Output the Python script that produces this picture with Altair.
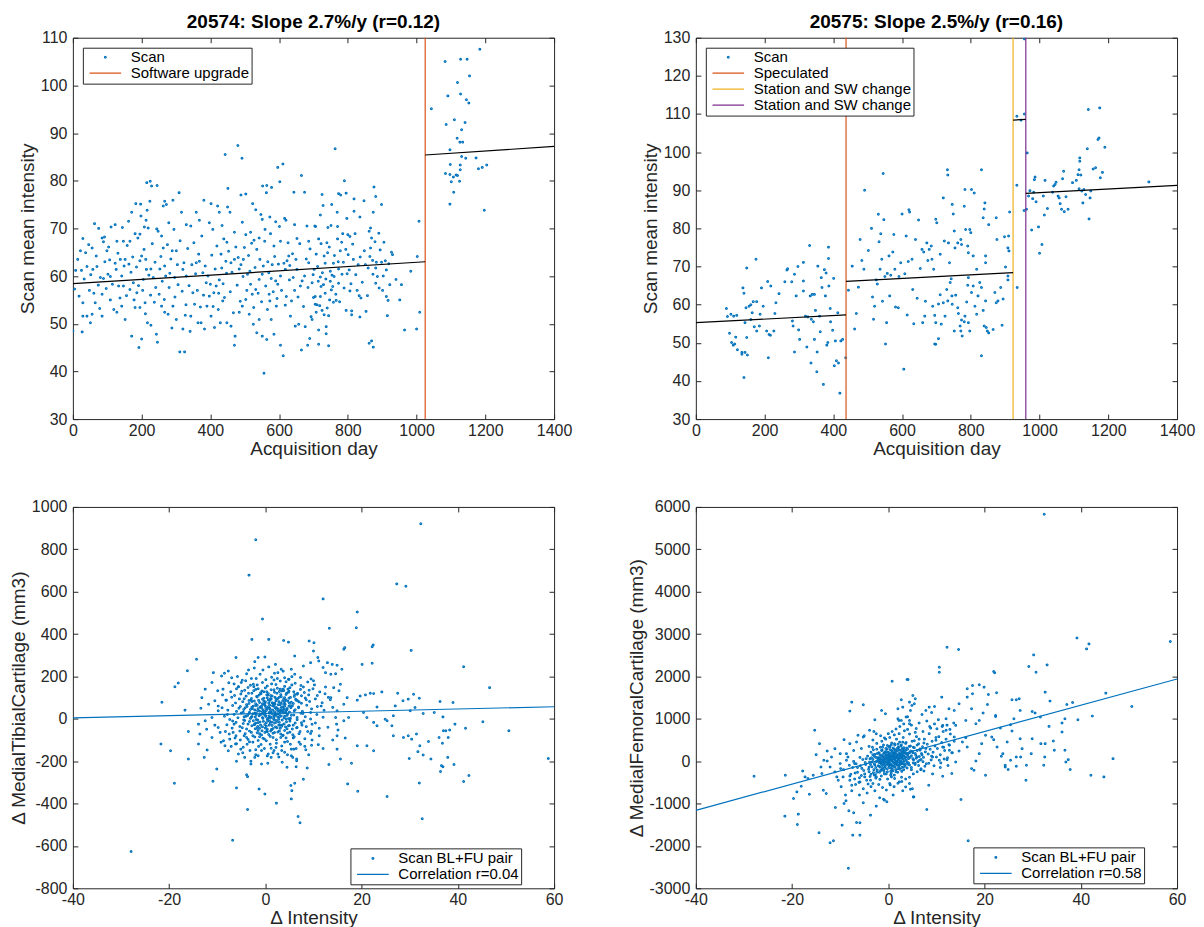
import altair as alt
import pandas as pd

# ---------------- data ----------------
# Panel 1 (20574): scans before the software upgrade (day, mean intensity)
p1_scans_pre = [
    (480, 87.4), (443, 85.5), (492, 84.7), (451, 78.4), (596, 82.8), (611, 83.5), (602, 79.8), (665, 81.1),
    (674, 77.6), (643, 77.6), (225, 79.9), (215, 79.6), (229, 78.9), (245, 79.0), (309, 77.5), (224, 75.7),
    (381, 75.9), (402, 75.2), (183, 75.2), (197, 75.1), (216, 73.8), (267, 75.7), (272, 75.0), (291, 75.9),
    (263, 74.7), (316, 73.4), (421, 74.7), (426, 73.4), (450, 74.5), (457, 73.4), (489, 77.0), (503, 77.2),
    (523, 75.2), (552, 78.9), (564, 79.0), (578, 78.6), (563, 77.5), (532, 73.9), (547, 72.9), (551, 71.9),
    (573, 72.4), (590, 71.4), (620, 71.7), (616, 72.1), (645, 70.8), (652, 67.9), (681, 70.5), (704, 70.5),
    (686, 67.3), (171, 73.4), (162, 71.5), (123, 70.8), (111, 70.3), (63, 71.0), (75, 70.0), (29, 67.9),
    (22, 65.3), (46, 66.6), (56, 65.9), (85, 68.0), (92, 68.2), (89, 67.2), (99, 65.3), (107, 63.4),
    (128, 67.3), (147, 67.3), (166, 67.3), (181, 68.9), (195, 68.8), (189, 68.0), (200, 64.2), (195, 63.2),
    (212, 63.5), (213, 71.7), (219, 70.1), (208, 70.3), (248, 69.4), (258, 68.4), (279, 71.2), (294, 69.8),
    (263, 65.9), (289, 65.3), (301, 65.3), (330, 70.8), (343, 70.5), (359, 73.4), (368, 71.7), (397, 71.2),
    (407, 69.8), (434, 70.6), (439, 67.8), (448, 67.1), (470, 69.2), (493, 71.3), (503, 68.7), (517, 69.2),
    (527, 67.5), (542, 68.0), (558, 67.3), (575, 68.9), (585, 66.3), (604, 67.3), (628, 64.2), (623, 63.2),
    (8, 61.2), (25, 61.2), (41, 62.0), (58, 61.4), (70, 62.0), (80, 59.7), (89, 59.5), (102, 60.4),
    (109, 59.9), (123, 62.7), (138, 63.5), (152, 63.5), (163, 62.5), (142, 60.0), (147, 57.9), (166, 57.2),
    (133, 57.9), (176, 58.6), (186, 56.5), (205, 59.3), (214, 61.4), (227, 61.5), (234, 59.7), (241, 57.6),
    (253, 61.5), (267, 62.1), (282, 60.6), (296, 59.7), (304, 62.4), (320, 61.4), (330, 60.0), (346, 62.4),
    (359, 62.8), (368, 63.1), (378, 60.7), (388, 58.6), (400, 58.3), (410, 56.5), (417, 57.9), (426, 59.2),
    (433, 61.7), (445, 63.1), (460, 62.8), (470, 63.5), (481, 63.9), (489, 62.4), (496, 63.5), (508, 60.4),
    (517, 58.3), (522, 56.2), (532, 57.2), (542, 59.3), (551, 60.4), (561, 57.9), (570, 60.7), (577, 59.5),
    (590, 59.0), (596, 58.3), (604, 60.0), (618, 61.4), (631, 62.2), (641, 59.7), (652, 61.4), (662, 57.9),
    (674, 60.0), (686, 62.8), (696, 58.6), (702, 61.4),
    (0, 48.5), (27, 48.3), (29, 51.6), (41, 51.6), (51, 50.2), (56, 52.0), (65, 54.4), (85, 51.6),
    (29, 54.4), (85, 56.2), (109, 55.0), (128, 52.4), (142, 53.7), (152, 50.9), (171, 47.4), (181, 53.4),
    (195, 53.4), (192, 45.0), (200, 46.8), (210, 54.4), (217, 50.2), (227, 49.7), (243, 47.8), (246, 46.1),
    (258, 53.7), (267, 52.4), (277, 52.0), (291, 53.7), (301, 50.9), (311, 44.1), (325, 44.1), (320, 48.9),
    (327, 51.8), (343, 51.6), (354, 54.1), (364, 50.2), (373, 50.2), (383, 48.9), (390, 53.7), (397, 55.8),
    (402, 51.6), (412, 49.2), (423, 53.0), (429, 50.2), (436, 54.8), (448, 50.2), (460, 49.5), (470, 45.5),
    (472, 47.4), (484, 52.4), (493, 53.7), (503, 55.1), (513, 52.0), (525, 49.9), (535, 48.1), (542, 50.9),
    (551, 47.4), (556, 39.6), (564, 46.7), (566, 53.0), (573, 54.8), (577, 50.9), (585, 47.8), (592, 53.7),
    (604, 45.5), (612, 43.3), (618, 53.9), (633, 51.6), (647, 49.5), (657, 49.9), (665, 44.5), (676, 49.4),
    (683, 45.5), (689, 46.9), (696, 50.9), (700, 55.5), (705, 54.1), (708, 52.4),
    (763, 86.7), (790, 80.0), (876, 78.7), (881, 76.7), (725, 77.1), (728, 74.8), (753, 75.0), (773, 77.3),
    (779, 77.0), (795, 77.4), (818, 76.2), (847, 75.8), (898, 75.0), (874, 73.4), (720, 72.8), (769, 73.4),
    (797, 72.1), (818, 73.6), (835, 72.4), (706, 70.4), (742, 70.2), (770, 70.4), (751, 70.6), (866, 70.1),
    (890, 69.0), (722, 66.8), (739, 67.0), (715, 67.8), (785, 68.9), (800, 68.7), (806, 68.3), (821, 68.9),
    (770, 67.8), (782, 67.1), (862, 69.4), (869, 68.0), (879, 67.2), (905, 67.1), (848, 65.3), (866, 65.9),
    (927, 65.0), (930, 64.5), (1007, 71.5), (741, 64.9), (778, 65.3), (801, 64.5), (816, 63.5), (830, 62.4),
    (872, 63.3), (883, 62.9), (898, 62.9), (909, 63.2), (912, 61.3), (859, 61.7), (881, 61.7), (1002, 64.1),
    (712, 62.0), (734, 62.7), (758, 62.7), (773, 61.5), (787, 62.9), (720, 59.8), (749, 61.0), (760, 59.9),
    (773, 58.5), (756, 57.8), (722, 57.8), (729, 58.2), (749, 58.9), (734, 56.4), (747, 55.0), (758, 54.5),
    (766, 54.9), (752, 57.1), (705, 55.7), (720, 55.7), (806, 56.9), (833, 55.9), (838, 55.4), (881, 58.5),
    (891, 57.5), (901, 57.0), (912, 55.7), (922, 58.2), (956, 58.2), (917, 54.9), (710, 54.0), (725, 52.8),
    (731, 51.9), (744, 51.7), (795, 52.8), (811, 52.7), (811, 51.9), (835, 51.4), (853, 52.6), (915, 51.7),
    (1009, 52.4), (715, 48.7), (737, 49.4), (737, 47.9), (715, 45.7), (744, 45.4), (862, 45.9), (869, 46.4),
    (874, 45.1), (965, 48.7), (1000, 48.9),
]
# Panel 1: further scans in the dense band before the upgrade
p1_scans_band = [
    (5, 57.3), (14, 63.5), (18, 55.8), (33, 59.4), (37, 64.9), (48, 57.0), (52, 60.3), (61, 56.4),
    (68, 64.2), (74, 58.1), (78, 53.2), (93, 63.0), (97, 57.4), (104, 66.1), (115, 58.3), (119, 53.0),
    (126, 61.4), (131, 64.8), (137, 55.4), (144, 70.2), (149, 62.1), (156, 55.9), (158, 66.4), (169, 60.8),
    (174, 64.0), (178, 55.0), (185, 61.9), (191, 58.0), (198, 72.6), (203, 57.0), (207, 65.6), (211, 52.1),
    (221, 60.2), (226, 56.0), (231, 66.8), (237, 54.5), (239, 62.9), (244, 69.9), (251, 56.2), (256, 64.1),
    (260, 58.9), (266, 55.1), (270, 60.0), (275, 66.6), (280, 57.6), (285, 63.6), (288, 49.1), (297, 55.6),
    (306, 58.2), (312, 67.4), (318, 56.8), (323, 62.8), (329, 54.0), (334, 65.8), (338, 58.0), (341, 48.4),
    (349, 56.5), (352, 67.0), (357, 60.5), (362, 57.0), (366, 64.6), (371, 53.5), (375, 68.4), (380, 56.0),
    (385, 62.1), (393, 60.0), (404, 64.4), (408, 53.6), (414, 61.5), (419, 66.3), (424, 56.4), (431, 64.6),
    (437, 58.4), (441, 55.5), (447, 60.6), (453, 65.2), (458, 56.7), (463, 60.8), (467, 52.3), (474, 66.1),
    (478, 58.1), (484, 61.5), (487, 54.7), (495, 59.9), (499, 66.0), (506, 57.0), (511, 64.3), (515, 61.0),
    (520, 66.9), (526, 53.4), (530, 61.8), (535, 65.6), (539, 56.4), (544, 63.5), (549, 54.6), (554, 62.1),
    (559, 69.8), (567, 63.0), (571, 56.2), (580, 62.4), (583, 56.7), (587, 64.1), (594, 55.3), (598, 62.5),
    (601, 70.4), (607, 57.0), (614, 62.7), (621, 55.7), (626, 67.0), (630, 59.2), (636, 54.8), (639, 64.7),
    (645, 57.0), (649, 63.5), (655, 55.6), (660, 66.8), (667, 59.0), (671, 53.6), (679, 63.6), (684, 57.6),
    (690, 65.7), (693, 51.5), (699, 60.3), (708, 64.6), (714, 58.9), (718, 53.8), (726, 60.7), (731, 64.2),
    (736, 59.4), (740, 53.3), (746, 66.1), (754, 60.2), (761, 64.3), (765, 56.2), (772, 63.0), (776, 54.6),
    (783, 60.4), (789, 57.5), (794, 65.6), (798, 60.5), (804, 61.3), (809, 58.4), (814, 66.7), (823, 60.3),
    (827, 57.0), (836, 64.0), (842, 58.7), (851, 62.4), (857, 55.9), (864, 64.1), (873, 60.4), (886, 59.9),
    (894, 65.5), (903, 60.0), (919, 62.6), (940, 59.3), (951, 55.0), (983, 61.0),
]
# Panel 1: scans after the software upgrade
p1_scans_post = [
    (1184, 107.6), (1083, 105.0), (1128, 105.5), (1147, 105.5), (1154, 102.0), (1119, 100.6), (1091, 97.8),
    (1128, 98.2), (1145, 97.0), (1152, 96.3), (1043, 95.1), (1110, 92.8), (1141, 92.2), (1086, 91.8),
    (1131, 90.7), (1118, 88.9), (1126, 88.1), (1134, 88.1), (1097, 86.5), (1131, 85.1), (1143, 84.7),
    (1173, 84.8), (1098, 83.4), (1127, 83.3), (1180, 82.5), (1191, 82.8), (1204, 83.3), (1084, 81.5),
    (1097, 81.3), (1107, 80.8), (1115, 81.2), (1119, 81.1), (1127, 82.3), (1101, 79.8), (1125, 79.9),
    (1108, 77.6), (1097, 75.1), (1197, 73.8),
]
p1_events = [("Software upgrade", 1025)]
p1_fit = [  # (segment, day, intensity)
    (1, 0, 58.4), (1, 1025, 63.0),
    (2, 1025, 85.4), (2, 1400, 87.2),
]

# Panel 2 (20575)
p2_scans = [
    (89, 59.0), (92, 56.9), (102, 57.5), (110, 57.0), (119, 57.2), (98, 52.5), (104, 50.1), (109, 49.4),
    (113, 49.7), (116, 51.5), (121, 48.2), (137, 64.4), (140, 63.0), (148, 69.6), (146, 59.2), (155, 59.6),
    (143, 55.3), (160, 60.0), (164, 57.9), (167, 60.8), (177, 60.8), (170, 54.2), (177, 53.1), (185, 54.4),
    (175, 71.9), (134, 47.0), (140, 40.9), (143, 47.5), (150, 46.8), (134, 47.5), (148, 51.4), (160, 56.1),
    (187, 57.5), (191, 64.4), (196, 59.6), (206, 53.1), (213, 52.2), (217, 52.0), (211, 46.1), (209, 66.1),
    (218, 64.9), (227, 53.1), (233, 60.5), (230, 57.7), (242, 62.9), (259, 66.0), (265, 69.1), (267, 69.4),
    (279, 66.0), (287, 68.0), (297, 70.0), (283, 54.4), (281, 55.7), (287, 47.6), (292, 62.3), (299, 53.4),
    (302, 50.9), (313, 71.1), (313, 66.2), (313, 63.6), (319, 57.0), (323, 48.9), (326, 56.8), (331, 75.5),
    (333, 62.3), (336, 56.2), (339, 62.7), (342, 55.5), (345, 50.9), (345, 62.7), (348, 58.5), (353, 47.6),
    (335, 44.7), (352, 42.4), (355, 70.1), (360, 57.0), (362, 52.9), (365, 67.1), (367, 64.5), (371, 39.1),
    (374, 69.2), (377, 62.3), (379, 68.3), (381, 49.4), (384, 50.1), (386, 72.1), (386, 75.1), (387, 64.9),
    (391, 59.0), (392, 55.5), (398, 53.3), (401, 66.9), (403, 44.0), (406, 50.5), (409, 45.3), (413, 57.9),
    (415, 44.7), (419, 36.8), (422, 50.5), (427, 50.9), (436, 46.1),
    (444, 63.8), (455, 70.1), (462, 53.6), (467, 57.7), (473, 64.6), (478, 77.1), (483, 71.6), (489, 69.3),
    (491, 90.0), (502, 74.2), (511, 80.0), (514, 62.0), (517, 56.2), (520, 59.6), (525, 66.5), (528, 65.4),
    (531, 83.7), (533, 76.5), (536, 69.3), (538, 78.6), (541, 71.9), (543, 60.9), (545, 94.4), (547, 82.3),
    (550, 67.4), (552, 49.7), (555, 55.3), (557, 68.2), (562, 72.8), (564, 62.3), (567, 67.7), (573, 73.8),
    (576, 78.4), (579, 69.3), (581, 59.4), (589, 59.2), (591, 67.4), (596, 71.0), (600, 83.8), (605, 43.1),
    (608, 68.1), (612, 78.0), (615, 57.3), (618, 71.3), (620, 84.9), (622, 84.3), (629, 71.9), (631, 64.0),
    (634, 55.0), (639, 77.1), (644, 61.7), (648, 82.2), (653, 69.5), (658, 74.5), (660, 55.3), (663, 73.8),
    (666, 57.0), (668, 60.9), (672, 76.2), (675, 71.6), (679, 74.5), (685, 75.4), (687, 71.9), (692, 69.3),
    (695, 57.2), (695, 49.7), (689, 59.6),
    (698, 82.4), (701, 81.5), (711, 73.2), (720, 88.0), (723, 76.7), (732, 95.4), (733, 94.0), (735, 76.2),
    (738, 71.0), (743, 66.8), (746, 86.3), (749, 83.8), (752, 79.3), (754, 74.9), (762, 76.2), (771, 77.1),
    (773, 75.8), (781, 85.8), (783, 90.2), (785, 79.7), (791, 75.4), (793, 73.6), (797, 79.7), (800, 78.9),
    (802, 90.2), (810, 89.3), (807, 72.8), (817, 69.3), (831, 95.4), (836, 82.8), (839, 85.1), (841, 86.7),
    (843, 72.8), (843, 71.0), (852, 81.0), (874, 82.8), (876, 77.1), (898, 77.8), (901, 69.9), (908, 74.9),
    (910, 78.0), (913, 84.3), (911, 74.1), (908, 67.5), (908, 66.5),
    (698, 55.3), (698, 49.6), (706, 51.1), (706, 60.2), (711, 62.6), (714, 54.9), (720, 60.5), (725, 57.0),
    (730, 64.0), (733, 61.0), (740, 65.8), (745, 62.3), (746, 60.1), (752, 53.1), (756, 62.5), (762, 59.2),
    (764, 57.7), (769, 54.4), (771, 53.1), (773, 56.0), (775, 51.8), (781, 55.5), (783, 57.0), (788, 60.7),
    (791, 65.1), (793, 67.1), (793, 55.3), (797, 53.1), (802, 63.2), (807, 64.9), (812, 59.6), (817, 57.5),
    (821, 62.3), (826, 65.8), (831, 64.5), (831, 46.6), (836, 58.5), (839, 54.4), (843, 61.0), (845, 54.0),
    (848, 53.1), (852, 52.6), (865, 53.5), (870, 63.2), (874, 60.5), (879, 61.0), (887, 64.5), (891, 54.6),
    (894, 61.5), (935, 64.5),
    (934, 109.4), (956, 110.0), (946, 108.4), (956, 129.7), (934, 91.3), (964, 99.8),
    (955, 84.7), (962, 85.0), (968, 88.5), (972, 89.9), (977, 79.6), (980, 87.8), (983, 89.5), (985, 92.8),
    (987, 93.5), (990, 87.0), (997, 80.4), (1000, 73.5), (1007, 75.8), (1011, 88.5), (1014, 83.5),
    (1016, 92.6), (1023, 85.2), (1038, 89.5), (1041, 91.1), (1045, 91.5), (1048, 92.1), (1054, 88.5),
    (1057, 88.0), (1060, 86.5), (1064, 85.0), (1067, 93.0), (1070, 95.0), (1072, 84.4), (1077, 88.3),
    (1083, 85.0), (1096, 92.0), (1107, 92.6), (1112, 94.1), (1115, 90.4), (1115, 95.4), (1117, 98.5),
    (1117, 97.6), (1120, 94.0), (1123, 89.8), (1126, 86.7), (1129, 90.2), (1134, 88.9), (1139, 100.9),
    (1142, 111.2), (1144, 82.5), (1147, 88.0), (1149, 89.8), (1156, 95.6), (1163, 95.9), (1170, 103.3),
    (1173, 103.7), (1175, 111.6), (1177, 93.3), (1183, 94.7), (1190, 101.3), (1318, 92.2),
]
p2_events = [("Speculated", 437), ("Station and SW change", 923), ("Station and SW change (2)", 960)]
p2_fit = [
    (1, 0, 55.3), (1, 437, 57.3),
    (2, 437, 66.1), (2, 923, 68.4),
    (3, 923, 108.4), (3, 960, 108.6),
    (4, 960, 89.2), (4, 1400, 91.3),
]

# Panel 3: delta intensity vs delta medial tibial cartilage
p3_outer = [
    (-2.0, 845), (-3.4, 678), (-0.6, 471), (-2.8, 375), (0.7, 375), (3.8, 370), (4.8, 362), (6.1, 296),
    (-6.1, 289), (-14.3, 281), (-16.2, 227), (-18.8, 151), (-18.1, 169), (-21.5, 78), (-21.7, -119),
    (-19.7, -151), (-18.9, -304), (-27.9, -626), (-6.8, -573), (-3.7, -428), (2.3, -398), (-0.1, -355),
    (-1.3, -331), (-6.0, -326), (-3.9, -264), (-3.7, -273), (-16.0, -190), (-10.1, -237), (-10.9, -295),
    (-12.7, -182), (-12.1, -147), (-13.9, -119), (-16.0, -60), (-16.7, 41), (-13.4, 50), (-13.2, 100),
    (-12.5, 140), (-11.1, 171), (-10.8, 218), (-9.1, 202), (-8.5, 215), (-7.7, 226), (-7.0, 194),
    (-3.9, 213), (-2.2, 270), (-1.5, 289), (-0.1, 292), (2.1, 257), (2.6, 218), (3.3, 234), (4.0, 194),
    (4.8, 187), (5.4, 234), (-2.5, 163), (-5.0, 171), (-5.6, 151), (-9.9, 132), (-8.9, 113), (-8.2, 88),
    (-11.8, 69), (-10.5, 85), (-9.8, 38), (-11.1, 6), (-12.5, -9), (-13.9, -25), (-13.6, -72),
    (-12.2, -49), (-11.1, -88), (-9.8, -41), (-9.4, -64), (-8.7, -104), (-8.4, -127), (-7.7, -151),
    (-7.4, -96), (-6.7, -64), (-6.5, -25), (-6.2, -119), (-5.6, -166), (-5.1, -143), (-4.3, -182),
    (-3.0, -213), (-2.2, -182), (-1.5, -174), (-0.8, -213), (0.6, -166), (1.2, -182), (2.6, -166),
    (4.0, -158), (5.4, -143), (4.5, -229), (5.7, -182), (6.4, -226), (6.1, -304), (5.5, -339),
    (32.3, 921), (27.3, 637), (29.2, 626), (12.0, 566), (19.1, 504), (13.3, 427), (18.9, 430), (9.1, 367),
    (10.1, 359), (16.5, 336), (16.3, 328), (22.4, 348), (22.2, 340), (30.3, 323), (41.2, 246), (22.2, 262),
    (20.1, 257), (46.6, 147), (24.2, 127), (27.5, 121), (30.8, 116), (32.0, 97), (28.6, 85), (29.7, 93),
    (36.3, 82), (39.0, 77), (20.8, 113), (21.8, 121), (22.5, 119), (19.7, 108), (19.1, 88), (23.2, 56),
    (24.9, -2), (27.0, 61), (26.6, 14), (30.1, 38), (31.1, 53), (32.8, 25), (35.1, 30), (36.9, 9),
    (25.3, -9), (21.1, 6), (22.5, -17), (20.4, 30), (23.2, -33), (26.3, -33), (26.6, -80), (28.7, -88),
    (29.7, -80), (30.4, -96), (31.4, -72), (32.1, -127), (31.7, -155), (32.8, -171), (33.9, -107),
    (36.1, -88), (36.8, -115), (37.5, -56), (38.3, -53), (39.4, -25), (41.6, -45), (45.2, -14), (50.6, -56),
    (58.8, -187), (34.4, -190), (29.9, -187), (22.5, -151), (21.1, -127), (19.1, -127), (17.9, -210),
    (17.1, -307), (19.2, -342), (25.3, -367), (32.0, -303), (32.6, -472), (36.4, -249), (36.9, -226),
    (39.2, -216), (37.9, -182), (36.6, -221), (42.3, -268), (41.2, -296), (38.0, -88), (37.0, -56),
    (14.9, -80), (16.6, -91), (14.9, -143), (15.6, -190), (13.2, -216), (11.0, -122), (8.4, -146),
    (8.7, -232), (5.4, -174), (6.5, -198), (5.3, -315), (5.4, -378), (6.8, -461), (7.2, -491), (7.9, -285),
    (9.6, -125), (9.4, -69), (14.6, 6), (14.8, -25), (15.1, -53), (16.3, -9), (17.3, 6), (14.9, 38),
    (16.3, 69), (17.0, 100), (15.3, 132), (15.6, 163), (14.2, 147), (13.6, 100), (15.9, 234), (14.9, 253),
    (13.9, 257), (12.9, 265), (11.1, 273), (9.4, 265), (7.9, 249), (10.0, 320), (10.9, 289), (12.0, 242),
    (12.5, 218), (13.6, 210), (14.6, 213),
]
p3_core = [
    (-6.5, 165), (-4.8, 182), (-3.1, 158), (-1.9, 190), (-0.6, 171), (0.4, 155), (1.3, 196), (2.2, 162),
    (3.1, 178), (4.0, 153), (4.9, 186), (6.2, 168), (7.4, 157), (8.8, 174), (10.2, 160), (-2.4, 152),
    (5.5, 199), (1.8, 183), (-5.6, 151), (9.5, 188),
    (-7.2, 128), (-6.0, 142), (-5.1, 117), (-4.3, 135), (-3.6, 148), (-2.8, 121), (-2.0, 139), (-1.3, 112),
    (-0.7, 131), (0.0, 146), (0.6, 119), (1.2, 137), (1.9, 125), (2.5, 144), (3.2, 114), (3.8, 133),
    (4.4, 121), (5.1, 147), (5.9, 128), (6.6, 116), (7.3, 139), (8.1, 124), (9.0, 113), (9.9, 142),
    (11.3, 127), (12.4, 118), (-1.0, 123), (2.9, 129), (0.3, 113), (4.7, 140),
    (-8.1, 88), (-7.0, 102), (-6.2, 75), (-5.4, 94), (-4.7, 81), (-4.0, 107), (-3.4, 72), (-2.9, 96),
    (-2.3, 84), (-1.7, 103), (-1.2, 77), (-0.6, 92), (-0.1, 71), (0.4, 99), (0.9, 86), (1.4, 108),
    (1.9, 74), (2.3, 93), (2.8, 81), (3.3, 104), (3.8, 70), (4.3, 89), (4.9, 97), (5.4, 78),
    (6.0, 106), (6.7, 85), (7.5, 73), (8.3, 98), (9.2, 82), (10.4, 94), (11.8, 76), (13.1, 101),
    (-3.0, 88), (-0.3, 83), (1.1, 96), (2.0, 101), (3.6, 84), (5.0, 73), (6.3, 92), (0.7, 74),
    (-2.0, 71), (4.0, 100),
    (-9.0, 52), (-7.8, 41), (-6.8, 63), (-6.0, 35), (-5.2, 58), (-4.5, 44), (-3.9, 67), (-3.3, 31),
    (-2.8, 55), (-2.2, 42), (-1.7, 64), (-1.2, 36), (-0.8, 51), (-0.3, 68), (0.2, 39), (0.6, 57),
    (1.0, 45), (1.5, 62), (1.9, 33), (2.3, 53), (2.7, 46), (3.1, 66), (3.6, 38), (4.0, 59),
    (4.5, 49), (5.0, 32), (5.6, 61), (6.2, 43), (6.9, 56), (7.7, 35), (8.6, 64), (9.6, 47),
    (10.8, 58), (12.2, 40), (14.0, 54), (-1.5, 48), (0.0, 60), (1.2, 31), (2.0, 69), (3.3, 41),
    (4.2, 35), (5.3, 52), (-2.5, 60), (-4.2, 52), (0.9, 50), (2.6, 37), (3.9, 47), (-0.5, 43),
    (-8.5, 12), (-7.4, -3), (-6.5, 21), (-5.7, 5), (-5.0, 27), (-4.3, -8), (-3.7, 16), (-3.1, 2),
    (-2.6, 24), (-2.1, 9), (-1.6, -5), (-1.1, 19), (-0.6, 6), (-0.1, 28), (0.4, -2), (0.8, 14),
    (1.3, 25), (1.7, 0), (2.2, 17), (2.6, 8), (3.1, 29), (3.5, -6), (4.0, 12), (4.6, 22),
    (5.2, 3), (5.9, 18), (6.6, -4), (7.4, 26), (8.3, 10), (9.4, -1), (10.7, 20), (12.0, 7),
    (-1.9, 20), (0.1, 11), (1.0, 3), (2.9, 21), (4.3, -1), (-3.4, 25), (1.8, 9), (3.7, 27),
    (-8.0, -28), (-6.9, -44), (-6.1, -17), (-5.3, -36), (-4.6, -22), (-3.9, -48), (-3.3, -13), (-2.8, -33),
    (-2.2, -25), (-1.7, -45), (-1.1, -15), (-0.6, -38), (-0.1, -27), (0.4, -49), (0.9, -12), (1.4, -31),
    (1.9, -20), (2.4, -42), (2.9, -16), (3.4, -35), (3.9, -24), (4.5, -47), (5.1, -11), (5.8, -30),
    (6.6, -41), (7.5, -19), (8.5, -37), (9.7, -26), (11.2, -45), (-2.0, -20), (0.2, -18), (1.6, -46),
    (3.0, -29), (4.8, -33),
    (-7.5, -72), (-6.3, -91), (-5.3, -58), (-4.4, -80), (-3.6, -97), (-2.9, -64), (-2.2, -86), (-1.5, -55),
    (-0.8, -76), (-0.2, -95), (0.4, -61), (1.0, -83), (1.6, -68), (2.3, -99), (2.9, -57), (3.6, -79),
    (4.3, -90), (5.1, -63), (6.0, -85), (7.0, -70), (8.2, -94), (9.6, -59), (-1.2, -70), (1.3, -52),
    (3.2, -88),
    (-6.0, -118), (-4.6, -134), (-3.3, -109), (-2.0, -146), (-0.9, -121), (0.2, -104), (1.2, -139),
    (2.3, -115), (3.4, -128), (4.6, -107), (5.9, -143), (7.3, -120), (-1.5, -102), (1.8, -150),
]
p3_dense = [
    (-4.8, -42), (-4.6, 31), (-4.4, 95), (-4.2, -70), (-4.0, 12), (-3.8, 58), (-3.6, -25), (-3.5, 121),
    (-3.3, -58), (-3.1, 44), (-2.9, 7), (-2.8, 82), (-2.6, -80), (-2.5, -9), (-2.4, 133), (-2.2, 26),
    (-2.1, -47), (-2.0, 63), (-1.9, -3), (-1.8, 106), (-1.7, -66), (-1.6, 39), (-1.5, -18), (-1.4, 87),
    (-1.3, 14), (-1.2, -85), (-1.1, 55), (-1.0, -30), (-0.9, 118), (-0.8, 22), (-0.7, -56), (-0.6, 71),
    (-0.5, 2), (-0.4, -12), (-0.3, 97), (-0.2, 35), (-0.1, -64), (0.0, 80), (0.1, 15), (0.2, -35),
    (0.3, 128), (0.4, 47), (0.5, -8), (0.6, 89), (0.7, -74), (0.8, 29), (0.9, 64), (1.0, -21),
    (1.1, 110), (1.2, 8), (1.3, -50), (1.4, 76), (1.5, 41), (1.6, -88), (1.7, 19), (1.8, 137),
    (1.9, -5), (2.0, 52), (2.1, -38), (2.2, 85), (2.3, -16), (2.4, 121), (2.5, 24), (2.6, -62),
    (2.7, 67), (2.8, -2), (2.9, 102), (3.0, 36), (3.1, -45), (3.2, 74), (3.3, 13), (3.4, 131),
    (3.5, -29), (3.6, 56), (3.7, -78), (3.8, 92), (3.9, 5), (4.0, -55), (4.1, 68), (4.2, 28),
    (4.3, 115), (4.4, -14), (4.5, 44), (4.6, -67), (4.7, 83), (4.8, 1), (4.9, 59), (5.0, -32),
    (5.2, 101), (5.4, 17), (5.6, -48), (5.8, 72), (6.0, 38), (6.2, -20), (6.4, 88), (6.6, 6),
    (6.9, 52), (7.2, -60), (7.5, 109), (7.8, 25), (8.0, -10),
    (-4.5, -5), (-3.9, -88), (-3.4, 86), (-2.7, 48), (-2.3, -28), (-1.9, 28), (-1.5, 142), (-1.2, -45),
    (-0.8, 60), (-0.5, -92), (-0.2, 20), (0.1, 50), (0.3, -58), (0.5, 112), (0.8, -30), (1.0, 34),
    (1.2, 93), (1.4, -15), (1.7, 60), (1.9, -65), (2.1, 18), (2.3, 45), (2.6, 96), (2.8, -30),
    (3.0, 11), (3.2, -72), (3.5, 37), (3.7, 140), (4.0, 81), (4.2, -38), (4.5, 16), (4.8, 125),
    (5.1, -2), (5.3, 62), (5.7, -75), (6.1, 115), (6.5, -42), (7.0, 80), (0.6, 3), (1.6, 72),
    (2.4, -8), (-0.6, 33), (-1.6, -36), (3.3, 53), (0.0, -44), (2.0, 26), (1.1, -58), (-0.3, 128),
    (4.4, 40), (-2.8, 11),
]
p3_halo = [
    (-10.5, -30), (-9.8, 60), (-9.2, -110), (-8.8, 140), (-8.3, -60), (-7.9, 20), (-7.6, 170), (-7.1, -130),
    (-6.8, -10), (-6.4, 110), (-6.1, -80), (-5.8, 200), (-5.5, 50), (-5.2, -100), (-4.9, 130), (-4.7, -160),
    (-4.4, 10), (-4.1, 180), (-3.8, -120), (-3.5, 230), (-3.2, -150), (-2.9, 190), (-2.6, -110), (-2.3, 240),
    (-2.0, -170), (-1.7, 160), (-1.4, -130), (-1.1, 210), (-0.8, -150), (-0.5, 230), (-0.2, -140), (0.1, 185),
    (0.4, -175), (0.7, 245), (1.0, -120), (1.3, 165), (1.6, -160), (1.9, 215), (2.2, -135), (2.5, 190),
    (2.8, -180), (3.1, 140), (3.4, -150), (3.7, 225), (4.0, -110), (4.3, 175), (4.6, -170), (4.9, 130),
    (5.2, -120), (5.5, 160), (5.8, -90), (6.1, 210), (6.4, -140), (6.7, 120), (7.0, -110), (7.3, 195),
    (7.6, -30), (7.9, 150), (8.2, -130), (8.5, 90), (8.8, -60), (9.1, 135), (9.4, 30), (9.7, -100),
    (10.0, 180), (10.4, -20), (10.8, 110), (11.2, -80), (11.6, 60), (12.0, -140), (12.5, 150), (13.0, -40),
    (13.5, 90), (14.0, -100), (-6.0, -200), (-3.0, -200), (0.5, -210), (3.5, -205), (6.5, -190), (9.0, -170),
]
p3_corr = [(-40, 4), (60, 57)]

# Panel 4: delta intensity vs delta medial femoral cartilage
p4_outer = [
    (-27.9, -355), (-21.4, -332), (-21.5, -1297), (-18.9, -1493), (-18.7, -1250), (-19.7, -881),
    (-19.0, -724), (-17.8, -230), (-18.1, -591), (-17.3, -371), (-16.4, -779), (-16.7, -410), (-15.6, -332),
    (-15.3, 728), (-14.3, 414), (-15.0, 155), (-14.4, -1690), (-13.5, -685), (-12.9, -763), (-12.7, 241),
    (-12.1, -1925), (-11.4, -1878), (-11.0, -1093), (-10.7, -371), (-9.9, -175), (-9.6, -1509), (-9.2, 508),
    (-9.2, -998), (-8.8, -936), (-8.3, -2529), (-8.2, -1171), (-7.6, 1394), (-8.0, 1182), (-7.4, -1745),
    (-7.2, -1218), (-6.6, -1446), (-5.9, -1745), (-5.9, -1454), (-5.2, 1331), (-5.2, -982), (-3.7, -1274),
    (-2.8, 977), (-2.5, -1061), (-1.8, -865), (-1.4, 1198), (-0.8, -920), (-0.3, -959), (0.8, 1888),
    (-0.6, 1119), (2.0, 1237), (2.2, 962), (2.7, 1449), (3.9, 1927), (4.4, 1394), (4.6, 1198), (5.1, 1551),
    (5.4, 1355), (3.7, 1041), (4.4, 884), (5.3, -842), (3.6, -606), (4.4, -528), (2.3, -489), (1.3, -410),
    (0.6, -292), (0.3, -528), (-2.5, -371), (-3.2, -528), (-3.7, -450), (-2.5, 649), (-3.9, 728),
    (-5.2, 571), (-6.3, 610), (-6.6, 453), (-8.0, 414), (-8.7, 178), (-10.0, 178), (-11.1, 296),
    (-11.8, 100), (-12.7, 5), (-12.1, -136), (-11.1, -253), (-10.4, -450), (-9.4, -371), (-8.0, -450),
    (-7.6, -567), (-5.9, -489), (-4.9, -371), (-7.0, -57), (-8.1, -96), (-8.7, 21), (-10.0, -57),
    (-14.0, -136), (-13.4, 21), (-13.8, -292),
    (32.4, 5828), (39.2, 2909), (41.2, 2650), (41.7, 2768), (58.6, 2823), (12.2, 2689), (14.6, 2634),
    (10.6, 2218), (10.6, 2100), (4.1, 1927), (30.2, 2509), (29.2, 2234), (30.7, 2100), (33.0, 2273),
    (21.9, 2116), (22.1, 2085), (16.4, 1708), (17.5, 1786), (18.9, 1802), (19.9, 1747), (22.5, 1614),
    (20.8, 1575), (17.5, 1590), (16.4, 1512), (32.6, 1630), (25.7, 1449), (26.6, 1449), (27.2, 1473),
    (33.6, 1418), (37.1, 1339), (38.3, 1386), (45.2, 1606), (50.6, 1292), (42.4, 1064), (39.4, 977),
    (36.7, 1001), (36.1, 899), (33.4, 821), (31.6, 1041), (29.9, 1174), (30.5, 1135), (27.4, 1198),
    (26.1, 1001), (25.4, 860), (23.3, 782), (22.3, 1056), (22.3, 1080), (19.7, 1135), (18.9, 962),
    (18.2, 884), (20.6, 1339), (17.3, 1237), (16.1, 962), (14.7, 1355), (13.7, 1198), (12.6, 1237),
    (11.1, 1512), (9.6, 1292), (8.5, 1276), (7.8, 1198), (5.6, 1473), (4.9, 1316), (3.0, 1276), (4.4, 962),
    (2.7, 962), (46.7, 60), (44.8, -371), (42.1, -332), (37.8, -198), (37.4, 37), (36.7, 256), (36.9, -18),
    (36.1, 688), (34.5, 256), (34.3, 476), (32.6, 414), (32.5, 100), (32.3, -96), (31.7, 414), (29.7, 178),
    (29.9, 531), (28.7, -96), (27.8, 296), (27.4, 531), (26.6, 100), (25.7, 712), (25.4, 21), (24.7, 453),
    (23.8, 178), (23.5, 116), (22.6, 335), (21.9, 508), (21.5, 571), (20.2, 610), (19.4, 414), (18.9, 178),
    (17.8, -214), (18.2, 5), (20.2, -332), (24.3, -96), (24.9, -198), (26.6, -120), (27.5, 100),
    (28.6, -450), (24.3, -136), (17.3, -175), (16.4, 335), (15.4, 453), (14.7, 241), (13.2, -292),
    (11.3, -355), (8.4, -567), (8.0, -1140), (5.2, -842), (4.6, -661), (15.1, -904), (16.6, -1878),
    (12.2, 37), (10.6, 21), (9.2, 100), (12.7, 256), (13.7, 570), (16.1, 555), (12.0, 728), (11.3, 845),
    (10.1, 766), (14.0, 845), (12.7, 374), (11.3, 335), (9.9, 492),
]
p4_core = [
    (-7.8, -310), (-7.4, -150), (-7.0, -420), (-6.7, -60), (-6.4, -260), (-6.1, -500), (-5.8, -110),
    (-5.6, -340), (-5.3, 40), (-5.1, -220), (-7.2, -5), (-6.0, -390), (-5.5, -170), (-6.9, -280), (-5.9, 90),
    (-4.9, -300), (-4.7, -80), (-4.5, -450), (-4.3, 120), (-4.1, -190), (-3.9, -20), (-3.8, -360),
    (-3.6, 210), (-3.4, -130), (-3.2, 40), (-3.1, -270), (-2.9, -60), (-2.8, 160), (-2.6, -400), (-2.5, -10),
    (-2.4, 280), (-2.3, -210), (-2.2, 80), (-2.1, -110), (-4.6, 60), (-4.0, -250), (-3.3, 330), (-2.7, -320),
    (-3.7, -80), (-4.2, -540), (-2.9, 110),
    (-1.95, -30), (-1.9, 190), (-1.85, -260), (-1.8, 60), (-1.7, -140), (-1.65, 330), (-1.6, -50),
    (-1.5, 110), (-1.45, -350), (-1.4, 250), (-1.3, -10), (-1.25, -190), (-1.2, 150), (-1.1, 40),
    (-1.05, -90), (-1.0, 380), (-0.9, -240), (-0.85, 90), (-0.8, -30), (-0.7, 220), (-0.65, -130),
    (-0.6, 20), (-0.5, 160), (-0.45, -300), (-0.4, 70), (-0.3, -60), (-0.25, 290), (-0.2, -180),
    (-0.1, 120), (-0.05, 0), (0.0, -80), (-1.35, 470), (-0.55, 520), (-1.75, -430), (-0.15, -420),
    (0.05, 200), (0.1, -30), (0.15, 350), (0.2, 60), (0.25, -150), (0.3, 130), (0.35, -60), (0.4, 270),
    (0.45, 20), (0.5, -240), (0.55, 180), (0.6, 90), (0.65, -100), (0.7, 430), (0.75, 10), (0.8, 230),
    (0.85, -190), (0.9, 120), (0.95, -20), (1.0, 310), (1.05, 60), (1.1, -120), (1.15, 200), (1.2, 150),
    (1.25, -330), (1.3, 40), (1.35, 380), (1.4, -60), (1.45, 260), (1.5, 100), (1.55, -200), (1.6, 170),
    (1.65, -10), (1.7, 520), (1.75, 80), (1.8, -90), (1.85, 240), (1.9, 140), (1.95, -260), (0.3, 560),
    (1.25, 620), (0.65, -370),
    (2.05, 30), (2.1, 330), (2.15, -110), (2.2, 180), (2.25, 70), (2.3, -30), (2.35, 450), (2.4, 120),
    (2.45, -190), (2.5, 260), (2.55, 10), (2.6, 200), (2.65, -70), (2.7, 380), (2.75, 90), (2.8, -240),
    (2.85, 150), (2.9, 300), (2.95, -20), (3.0, 220), (3.05, 50), (3.1, 560), (3.15, -130), (3.2, 130),
    (3.3, 270), (3.4, -60), (3.5, 190), (3.6, 420), (3.7, 20), (3.8, 310), (3.9, -160), (2.25, 650),
    (3.35, 720), (2.75, -380),
    (4.05, 160), (4.2, -40), (4.35, 350), (4.5, 90), (4.65, 240), (4.8, -150), (4.95, 470), (5.1, 200),
    (5.25, 30), (5.4, 320), (5.55, -80), (5.7, 140), (5.85, 580), (6.0, 250), (6.15, -10), (6.3, 410),
    (6.45, 110), (6.6, 290), (6.75, -200), (6.9, 180), (4.4, 640), (5.8, 770), (6.5, 20),
    (7.1, 340), (7.3, 90), (7.5, 520), (7.7, 220), (7.9, -60), (8.1, 400), (8.3, 170), (8.5, 650),
    (8.7, 280), (8.9, 30), (9.1, 470), (9.3, 210), (9.5, -110), (9.7, 360), (9.9, 560), (7.4, -230),
    (8.6, 820), (9.0, 120),
    (10.2, 300), (10.5, 580), (10.8, 150), (11.1, 440), (11.4, 700), (11.7, 250), (12.0, 520), (12.3, 80),
    (12.6, 390), (12.9, 640), (13.3, 200), (13.7, 470), (10.9, -40), (12.2, 850), (11.5, 330),
]
p4_dense = [
    (-4.0, -140), (-3.8, 60), (-3.6, -310), (-3.4, -20), (-3.2, 150), (-3.0, -200), (-2.8, -90), (-2.6, 90),
    (-2.4, -260), (-2.2, 20), (-2.0, 200), (-1.9, -120), (-1.8, -10), (-1.7, 140), (-1.6, -220), (-1.5, 40),
    (-1.4, -80), (-1.3, 260), (-1.2, -150), (-1.1, 100), (-1.0, -40), (-0.9, 190), (-0.8, -180), (-0.7, 50),
    (-0.6, -90), (-0.5, 300), (-0.4, -20), (-0.3, 140), (-0.2, -250), (-0.1, 60), (0.0, 210), (0.1, -110),
    (0.2, 10), (0.3, 330), (0.4, -60), (0.5, 120), (0.6, -170), (0.7, 250), (0.8, 40), (0.9, -230),
    (1.0, 160), (1.1, -30), (1.2, 90), (1.3, 410), (1.4, -140), (1.5, 220), (1.6, 0), (1.7, -60),
    (1.8, 300), (1.9, 110), (2.0, -180), (2.1, 50), (2.2, 260), (2.3, -90), (2.4, 170), (2.5, -10),
    (2.6, 360), (2.7, 70), (2.8, -150), (2.9, 230), (3.0, 130), (3.1, -60), (3.2, 320), (3.3, 10),
    (3.4, 200), (3.5, -120), (3.6, 90), (3.7, 440), (3.8, 160), (3.9, -20), (4.0, 280), (4.2, 60),
    (4.4, -90), (4.6, 360), (4.8, 130), (5.0, 230), (5.2, -40), (5.4, 480), (5.6, 180), (5.8, 70),
    (6.0, 380), (6.3, -100), (6.6, 260), (7.0, 150), (7.4, 430), (7.8, 300),
    (-3.5, 80), (-2.9, -330), (-2.3, 180), (-1.7, -30), (-1.2, 330), (-0.8, -300), (-0.4, 230), (0.0, -10),
    (0.4, 60), (0.8, -90), (1.2, 280), (1.6, -250), (2.0, 400), (2.4, -40), (2.8, 140), (3.2, -200),
    (3.6, 250), (4.0, -70), (4.4, 200), (4.8, -200), (5.2, 330), (5.6, -50), (6.0, 100), (6.4, 520),
    (6.8, 40), (7.2, -10), (0.2, 170), (0.6, 380), (1.0, -120), (1.4, 40), (1.8, -20), (2.2, -150),
    (2.6, -60), (3.0, 450), (3.4, 80), (-0.6, 120), (-1.4, -210), (-2.0, 80), (-2.6, -150), (-3.1, 270),
    (1.1, 190), (2.1, 320), (3.1, 240), (0.5, -330), (-0.2, 370), (4.1, 110), (5.1, 60), (1.5, -70),
    (2.5, 90), (-1.0, 10),
]
p4_halo = [
    (-9.8, -600), (-9.3, -200), (-8.9, -800), (-8.4, 100), (-8.0, -350), (-7.6, -700), (-7.2, 250),
    (-6.8, -550), (-6.4, -150), (-6.0, -800), (-5.6, 300), (-5.2, -650), (-4.8, -30), (-4.4, -750),
    (-4.0, 350), (-3.6, -600), (-3.2, 500), (-2.8, -700), (-2.4, 420), (-2.0, -550), (-1.6, 600),
    (-1.2, -620), (-0.8, 550), (-0.4, -680), (0.0, 650), (0.4, -560), (0.8, 700), (1.2, -600), (1.6, 760),
    (2.0, -520), (2.4, 820), (2.8, -480), (3.2, 880), (3.6, -420), (4.0, 750), (4.4, -380), (4.8, 850),
    (5.2, -300), (5.6, 680), (6.0, -250), (6.4, 900), (6.8, -180), (7.2, 700), (7.6, -120), (8.0, 950),
    (8.4, -50), (8.8, 780), (9.2, -300), (9.6, 880), (10.0, 100), (10.4, 980), (10.8, -150), (11.2, 820),
    (11.6, 50), (12.0, 1000), (12.4, -100), (12.8, 750), (13.2, 200), (13.6, 900), (14.0, -20),
    (-3.0, 700), (-1.0, -900), (1.0, -800), (3.0, -700), (5.0, -650), (7.0, 1100), (9.0, 1150),
    (-5.0, 600), (2.0, 1000), (4.0, 1050),
]
p4_corr = [(-40, -1160), (60, 1940)]

# ---------------- styling ----------------
FONT = "Liberation Sans"
AX = "#262626"
BLUE = "#0072BD"
ORANGE = "#D95319"
YELLOW = "#EDB120"
PURPLE = "#7E2F8E"
LBL = "datum.value < 0 ? '-' + format(-datum.value, 'd') : format(datum.value, 'd')"
W, H = 482, 382


def main_axis(vals, title, orient):
    return alt.Axis(orient=orient, values=vals, title=title, offset=-5, tickSize=5, tickColor=AX,
                    tickWidth=1, domain=False, grid=False, labelExpr=LBL, labelFlush=False,
                    labelOverlap=False, labelFont=FONT, labelFontSize=16, labelColor=AX,
                    labelPadding=6 if orient == "left" else 3,
                    titleFont=FONT, titleFontSize=19, titleFontWeight="normal", titleColor=AX,
                    titlePadding=3 if orient == "left" else 1)


def mirror_axis(vals, orient):
    return alt.Axis(orient=orient, values=vals, title=None, labels=False, offset=-5, tickSize=5,
                    tickColor=AX, tickWidth=1, domain=False, grid=False)


def make_legend(clip_h=15, label_expr=None, **pos):
    kw = dict(title=None, strokeColor=AX, fillColor="white", padding=2, cornerRadius=0,
              labelFont=FONT, labelFontSize=15, labelColor="black", labelBaseline="middle",
              clipHeight=clip_h, rowPadding=0, symbolOffset=4, labelOffset=9, labelLimit=400,
              symbolStrokeWidth=1.2)
    if label_expr:
        kw["labelExpr"] = label_expr
    kw.update(pos)
    return alt.Legend(**kw)


def panel(points, series_name, legend_dom, legend_colors, leg, xdom, ydom, xvals, yvals, xtitle, ytitle,
          fit_rows, fit_color, events=None, title=None):
    df = pd.DataFrame(points, columns=["x", "y"])
    df["series"] = series_name
    xs = alt.Scale(domain=xdom, nice=False, zero=False)
    ys = alt.Scale(domain=ydom, nice=False, zero=False)
    shapes = ["circle"] + ["stroke"] * (len(legend_dom) - 1)
    sizes = [3] + [1000] * (len(legend_dom) - 1)
    scan = alt.Chart(df).mark_point(filled=False, opacity=1, strokeWidth=1.2, clip=True).encode(
        x=alt.X("x:Q", scale=xs, axis=main_axis(xvals, xtitle, "bottom")),
        y=alt.Y("y:Q", scale=ys, axis=main_axis(yvals, ytitle, "left")),
        color=alt.Color("series:N", scale=alt.Scale(domain=legend_dom, range=legend_colors), legend=leg),
        shape=alt.Shape("series:N", scale=alt.Scale(domain=legend_dom, range=shapes), legend=leg),
        size=alt.Size("series:N", scale=alt.Scale(type="ordinal", domain=legend_dom, range=sizes), legend=leg),
    )
    layers = [scan]
    if events:
        ev = pd.DataFrame(events, columns=["name", "x"])
        cmap = dict(zip(legend_dom, legend_colors))
        ev["col"] = ev["name"].map(cmap)
        layers.append(alt.Chart(ev).mark_rule(strokeWidth=1.2).encode(
            x=alt.X("x:Q", scale=xs, axis=None),
            stroke=alt.Stroke("col:N", scale=None, legend=None),
        ))
    fit = pd.DataFrame(fit_rows, columns=["seg", "x", "y"])
    layers.append(alt.Chart(fit).mark_line(color=fit_color, strokeWidth=1.2, clip=True).encode(
        x=alt.X("x:Q", scale=xs, axis=mirror_axis(xvals, "top")),
        y=alt.Y("y:Q", scale=ys, axis=mirror_axis(yvals, "right")),
        detail="seg:N",
    ))
    props = dict(width=W, height=H)
    if title:
        props["title"] = alt.Title(title, font=FONT, fontSize=19, fontWeight="bold", color="black",
                                   anchor="middle", frame="group", offset=-2)
    return alt.layer(*layers).resolve_axis(x="independent", y="independent").properties(**props)


day_ticks = list(range(0, 1401, 200))

p1 = panel(p1_scans_pre + p1_scans_band + p1_scans_post, "Scan", ["Scan", "Software upgrade"], [BLUE, ORANGE],
           make_legend(orient="top-left", offset=10),
           [0, 1400], [30, 110], day_ticks, list(range(30, 111, 10)),
           "Acquisition day", "Scan mean intensity", p1_fit, "black", events=p1_events,
           title="20574: Slope 2.7%/y (r=0.12)")

p2 = panel(p2_scans, "Scan", ["Scan", "Speculated", "Station and SW change", "Station and SW change (2)"],
           [BLUE, ORANGE, YELLOW, PURPLE],
           make_legend(orient="top-left", offset=10, label_expr="replace(datum.label, ' (2)', '')"),
           [0, 1400], [30, 130], day_ticks, list(range(30, 131, 10)),
           "Acquisition day", "Scan mean intensity", p2_fit, "black", events=p2_events,
           title="20575: Slope 2.5%/y (r=0.16)")

p3_fit = [(1, x, y) for x, y in p3_corr]
p3 = panel(p3_outer + p3_core + p3_dense + p3_halo, "Scan BL+FU pair",
           ["Scan BL+FU pair", "Correlation r=0.04"],
           [BLUE, BLUE], make_legend(clip_h=16, orient="none", legendX=278, legendY=342),
           [-40, 60], [-800, 1000], list(range(-40, 61, 20)), list(range(-800, 1001, 200)),
           "Δ Intensity", "Δ MedialTibialCartilage (mm3)", p3_fit, BLUE)

p4_fit = [(1, x, y) for x, y in p4_corr]
p4 = panel(p4_outer + p4_core + p4_dense + p4_halo, "Scan BL+FU pair",
           ["Scan BL+FU pair", "Correlation r=0.58"],
           [BLUE, BLUE], make_legend(clip_h=16, orient="none", legendX=278, legendY=341),
           [-40, 60], [-3000, 6000], list(range(-40, 61, 20)), list(range(-3000, 6001, 1000)),
           "Δ Intensity", "Δ MedialFemoralCartilage (mm3)", p4_fit, BLUE)

chart = alt.concat(p1, p2, p3, p4, columns=2, spacing={"row": 39, "column": 53}).resolve_scale(
    color="independent", shape="independent", size="independent", stroke="independent"
).properties(padding={"left": 0, "top": 3, "right": 0, "bottom": 0}, background="white").configure_view(
    stroke=AX, strokeWidth=1
)

chart.save("out.html", embed_options={"renderer": "svg", "actions": False})
